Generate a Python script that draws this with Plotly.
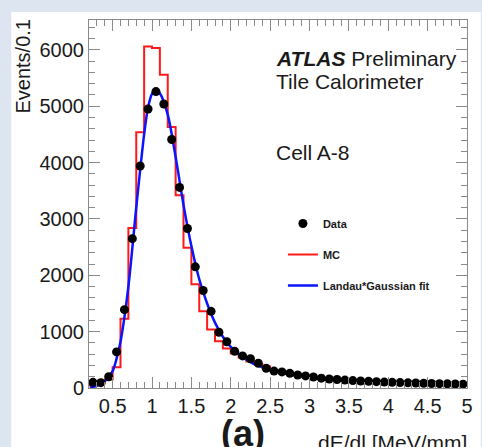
import plotly.graph_objects as go

# ---------------- data ----------------
bin_width = 0.1
data_centers = [0.25 + 0.1 * i for i in range(48)]
data_values = [100, 95, 200, 640, 1390, 2650, 3940, 4950, 5260, 5040,
               4410, 3560, 2830, 2150, 1730, 1360, 990, 820, 650, 570,
               520, 440, 350, 300, 285, 260, 230, 215, 195, 175,
               160, 150, 140, 132, 125, 118, 112, 105, 100, 96,
               92, 88, 84, 80, 77, 74, 71, 68]

mc_edges = [0.2 + 0.1 * i for i in range(49)]
mc_values = [50, 80, 150, 370, 1230, 2840, 4540, 6060, 6035, 5560,
             4630, 3420, 2490, 1840, 1360, 1040, 830, 700, 610, 540,
             470, 420, 380, 300, 280, 255, 225, 205, 180, 165,
             150, 140, 130, 120, 112, 105, 98, 92, 90, 85,
             80, 76, 72, 68, 64, 60, 57, 54]

fit_x = [0.21, 0.3, 0.4, 0.5, 0.55, 0.6, 0.7, 0.8, 0.9, 0.95, 1.0, 1.05, 1.1,
         1.2, 1.3, 1.4, 1.5, 1.6, 1.7, 1.8, 1.9, 2.0, 2.2, 2.4, 2.6, 2.8,
         3.0, 3.5, 4.0, 4.5, 5.0]
fit_y = [5, 40, 120, 300, 520, 820, 1800, 3200, 4500, 4980, 5220, 5290, 5230,
         4850, 4100, 3250, 2520, 1930, 1500, 1160, 910, 730, 500, 370, 290, 235,
         195, 135, 100, 80, 64]

x_range = [0.2, 5.0]
y_range = [0, 6530]
x_ticks = [0.5, 1, 1.5, 2, 2.5, 3, 3.5, 4, 4.5, 5]
x_ticklabels = ["0.5", "1", "1.5", "2", "2.5", "3", "3.5", "4", "4.5", "5"]
y_ticks = [0, 1000, 2000, 3000, 4000, 5000, 6000]

# ---------------- layout helpers ----------------
W, H = 482, 447
L, R, T, B = 89, 9, 20, 59
PW, PH = W - L - R, H - T - B


def px2x(px):
    return (px - L) / PW


def py2y(py):
    return 1 - (py - T) / PH


FONT = "Liberation Sans, Arial, sans-serif"
TXT = "#1a1a1a"

mc_x = mc_edges
mc_y = mc_values + [mc_values[-1]]

fig = go.Figure()
fig.add_trace(go.Scatter(
    x=mc_x, y=mc_y, mode="lines", line=dict(color="#ff1a1a", width=2, shape="hv"),
    name="MC", legendgroup="b", legendrank=2))
fig.add_trace(go.Scatter(
    x=fit_x, y=fit_y, mode="lines", line=dict(color="#0a14ff", width=2.5, shape="spline", smoothing=0.8),
    name="Landau*Gaussian fit", legendgroup="c", legendrank=3))
fig.add_trace(go.Scatter(
    x=data_centers, y=data_values, mode="markers",
    marker=dict(color="black", size=9, line=dict(width=0)),
    name="Data", legendgroup="a", legendrank=1))

axis_common = dict(
    showline=True, linecolor="#8a8a8a", linewidth=1, mirror="ticks",
    ticks="inside", ticklen=11, tickcolor="#8a8a8a", tickwidth=1,
    showgrid=False, zeroline=False,
    tickfont=dict(family=FONT, size=20, color=TXT),
)

fig.update_layout(
    width=W, height=H,
    margin=dict(l=L, r=R, t=T, b=B, pad=0),
    paper_bgcolor="#dce5f0",
    plot_bgcolor="white",
    font=dict(family=FONT, color=TXT),
    xaxis=dict(range=x_range, tickvals=x_ticks, ticktext=x_ticklabels,
               minor=dict(ticks="inside", ticklen=6, dtick=0.1, tick0=0.2,
                          tickcolor="#8a8a8a"),
               **axis_common),
    yaxis=dict(range=y_range, tickvals=y_ticks,
               minor=dict(ticks="inside", ticklen=6, dtick=200, tick0=0,
                          tickcolor="#8a8a8a"),
               **axis_common),
    showlegend=True,
    legend=dict(x=px2x(286), y=py2y(209), xanchor="left", yanchor="top",
                bgcolor="rgba(0,0,0,0)", tracegroupgap=12,
                traceorder="grouped",
                font=dict(family=FONT, size=11, color=TXT, weight="bold")),
    shapes=[dict(type="rect", xref="paper", yref="paper", layer="below",
                 x0=px2x(10), x1=px2x(W + 5), y0=py2y(H + 5), y1=py2y(12),
                 fillcolor="white", line=dict(width=0))],
    annotations=[
        dict(text="<b><i>ATLAS</i></b> Preliminary", xref="paper", yref="paper",
             x=px2x(277), y=py2y(59), xanchor="left", yanchor="middle",
             showarrow=False, font=dict(size=21, color=TXT)),
        dict(text="Tile Calorimeter", xref="paper", yref="paper",
             x=px2x(277), y=py2y(82), xanchor="left", yanchor="middle",
             showarrow=False, font=dict(size=21, color=TXT)),
        dict(text="Cell A-8", xref="paper", yref="paper",
             x=px2x(277), y=py2y(152), xanchor="left", yanchor="middle",
             showarrow=False, font=dict(size=21, color=TXT)),
        dict(text="Events/0.1", xref="paper", yref="paper", textangle=-90,
             x=px2x(21), y=py2y(17), xanchor="center", yanchor="top",
             showarrow=False, font=dict(size=20, color=TXT)),
        dict(text="dE/dl [MeV/mm]", xref="paper", yref="paper",
             x=px2x(475), y=py2y(429), xanchor="right", yanchor="top",
             showarrow=False, font=dict(size=21, color=TXT)),
        dict(text="<b>(a)</b>", xref="paper", yref="paper",
             x=px2x(245), y=py2y(411), xanchor="center", yanchor="top",
             showarrow=False, font=dict(size=36, color=TXT)),
    ],
)

fig.write_html("out.html")
